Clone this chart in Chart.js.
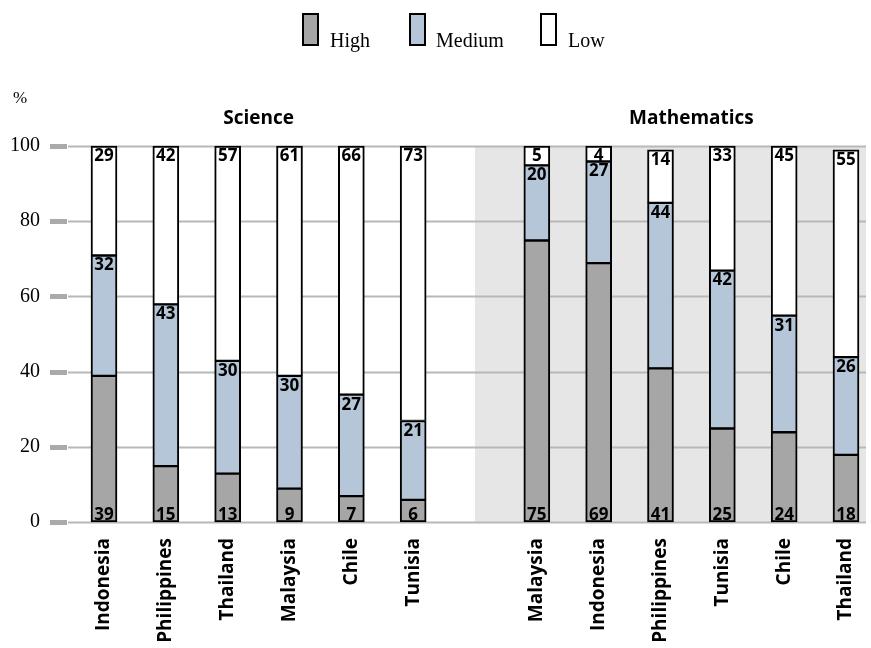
<!DOCTYPE html>
<html>
<head>
<meta charset="utf-8">
<script src="https://cdn.jsdelivr.net/npm/chart.js@4/dist/chart.umd.min.js"></script>
<style>
	body { margin: 0; background: #fff; }
	canvas { display: block; }
</style>
</head>
<body>
<canvas id="chart" width="871" height="648"></canvas>
<script>
// categories (slot 6 is the gap between the two groups)
const countries = ['Indonesia', 'Philippines', 'Thailand', 'Malaysia', 'Chile', 'Tunisia', '',
	'Malaysia', 'Indonesia', 'Philippines', 'Tunisia', 'Chile', 'Thailand'];
const highValues = [39, 15, 13, 9, 7, 6, null, 75, 69, 41, 25, 24, 18];
const mediumValues = [32, 43, 30, 30, 27, 21, null, 20, 27, 44, 42, 31, 26];
const lowValues = [29, 42, 57, 61, 66, 73, null, 5, 4, 14, 33, 45, 55];
const seriesNames = ['High', 'Medium', 'Low'];
const seriesColors = ['#a6a6a6', '#b4c6d7', '#ffffff'];
const groupTitles = ['Science', 'Mathematics'];
const groupRanges = [[0, 5], [7, 12]];
const yTicks = [0, 20, 40, 60, 80, 100];

const sansBold = '700 17px "Open Sans", sans-serif';
const serif = '"Liberation Serif", serif';

const backdrop = {
	id: 'backdrop',
	beforeDatasetsDraw(chart) {
		const ctx = chart.ctx;
		const x = chart.scales.x, y = chart.scales.y;
		ctx.save();
		// grey panel behind Mathematics
		ctx.fillStyle = '#e6e6e6';
		const gx = x.getPixelForValue(6);
		ctx.fillRect(gx, y.getPixelForValue(100), 866 - gx, y.getPixelForValue(0) - y.getPixelForValue(100));
		// grid lines and tick stubs
		yTicks.forEach(t => {
			const py = Math.round(y.getPixelForValue(t)) + 0.5;
			ctx.strokeStyle = '#b8b8b8';
			ctx.lineWidth = 2;
			ctx.beginPath();
			ctx.moveTo(68, py);
			ctx.lineTo(866, py);
			ctx.stroke();
			ctx.fillStyle = '#aaaaaa';
			ctx.fillRect(50, py - 2.5, 17, 5);
		});
		ctx.restore();
	},
	afterDraw(chart) {
		const ctx = chart.ctx;
		const x = chart.scales.x;
		ctx.save();
		// group titles
		ctx.fillStyle = '#000';
		ctx.font = '700 19px "Open Sans", sans-serif';
		ctx.textAlign = 'center';
		ctx.textBaseline = 'alphabetic';
		groupTitles.forEach((t, i) => {
			const cx = (x.getPixelForValue(groupRanges[i][0]) + x.getPixelForValue(groupRanges[i][1])) / 2;
			ctx.fillText(t, cx, 124);
		});
		// % unit
		ctx.font = '17px ' + serif;
		ctx.textAlign = 'left';
		ctx.fillText('%', 13, 103);
		// legend
		const boxX = [303, 410, 541];
		const textX = [330, 436, 568];
		ctx.font = '20px ' + serif;
		seriesNames.forEach((name, i) => {
			ctx.fillStyle = seriesColors[i];
			ctx.fillRect(boxX[i], 14, 15, 31);
			ctx.strokeStyle = '#000';
			ctx.lineWidth = 2;
			ctx.strokeRect(boxX[i], 14, 15, 31);
			ctx.fillStyle = '#000';
			ctx.fillText(name, textX[i], 47);
		});
		// value labels in bars
		ctx.font = sansBold;
		ctx.textAlign = 'center';
		chart.data.datasets.forEach((ds, di) => {
			const meta = chart.getDatasetMeta(di);
			meta.data.forEach((bar, i) => {
				const v = ds.data[i];
				if (v == null) return;
				if (di === 0) {
					ctx.textBaseline = 'bottom';
					ctx.fillText(v, bar.x, bar.base + 2);
				} else {
					ctx.textBaseline = 'top';
					ctx.fillText(v, bar.x, bar.y + 2);
				}
			});
		});
		ctx.restore();
	}
};

const values = [highValues, mediumValues, lowValues];

new Chart(document.getElementById('chart'), {
	type: 'bar',
	data: {
		labels: countries,
		datasets: seriesNames.map((name, i) => ({
			label: name,
			data: values[i],
			backgroundColor: seriesColors[i],
			borderColor: '#000',
			borderWidth: i === 0 ? 2 : { top: 2, left: 2, right: 2, bottom: 1 },
			borderSkipped: false,
			barThickness: 26,
			clip: false
		}))
	},
	options: {
		responsive: false,
		animation: false,
		layout: { padding: { top: 146, right: 25, bottom: 0, left: 0 } },
		plugins: { legend: { display: false }, tooltip: { enabled: false } },
		scales: {
			x: {
				stacked: true,
				offset: false,
				grid: { display: false, drawTicks: false },
				border: { display: false },
				afterFit: s => { s.height = 126; s.paddingLeft = 0; s.paddingRight = 0; },
				ticks: {
					autoSkip: false,
					minRotation: 90,
					maxRotation: 90,
					padding: 16,
					color: '#000',
					font: { family: '"Open Sans", sans-serif', weight: '700', size: 19 }
				}
			},
			y: {
				stacked: true,
				min: 0,
				max: 100,
				grid: { display: false, drawTicks: false },
				border: { display: false },
				afterFit: s => { s.width = 104; s.paddingTop = 0; s.paddingBottom = 0; },
				ticks: {
					stepSize: 20,
					padding: 64,
					color: '#000',
					font: { family: '"Liberation Serif", serif', size: 20 }
				}
			}
		}
	},
	plugins: [backdrop]
});
</script>
</body>
</html>
